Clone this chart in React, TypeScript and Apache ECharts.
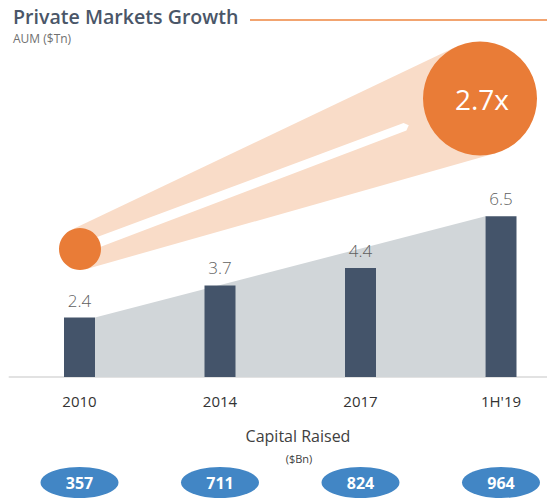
import React, { useEffect, useRef } from "react";
import * as echarts from "echarts";

const categories = ["2010", "2014", "2017", "1H'19"];
const aum = [2.4, 3.7, 4.4, 6.5];
const capitalRaised = [357, 711, 824, 964];
const titleText = "Private Markets Growth";
const subtitleText = "AUM ($Tn)";
const footerTitle = "Capital Raised";
const footerUnit = "($Bn)";

const FONT = "'Open Sans', 'Noto Sans', sans-serif";
const BAR_W = 31;

function beamGraphics() {
  const c1 = { x: 80, y: 249, r: 21 };
  const c2 = { x: 480, y: 98.5, r: 57 };
  const dx = c2.x - c1.x;
  const dy = c2.y - c1.y;
  const d = Math.sqrt(dx * dx + dy * dy);
  const th = Math.atan2(dy, dx);
  const al = Math.asin((c2.r - c1.r) / d);
  const pu = th - al;
  const pl = th + al;
  const nu = [Math.sin(pu), -Math.cos(pu)];
  const nl = [-Math.sin(pl), Math.cos(pl)];
  const hull = [
    [c1.x + c1.r * nu[0], c1.y + c1.r * nu[1]],
    [c2.x + c2.r * nu[0], c2.y + c2.r * nu[1]],
    [c2.x + c2.r * nl[0], c2.y + c2.r * nl[1]],
    [c1.x + c1.r * nl[0], c1.y + c1.r * nl[1]],
  ];
  const ux = Math.cos(th);
  const uy = Math.sin(th);
  const nx = -uy;
  const ny = ux;
  const sx = 95;
  const s0 = [sx, c1.y + (sx - c1.x) * Math.tan(th)];
  const ex = 405;
  const e0 = [ex, c1.y + (ex - c1.x) * Math.tan(th)];
  const w0 = 5.2;
  const w1 = 4;
  const streak = [
    [s0[0] + nx * w0, s0[1] + ny * w0],
    [e0[0] + nx * w1, e0[1] + ny * w1],
    [e0[0] + ux * 4, e0[1] + uy * 4],
    [e0[0] - nx * w1, e0[1] - ny * w1],
    [s0[0] - nx * w0, s0[1] - ny * w0],
  ];
  const ratio = (aum[aum.length - 1] / aum[0]).toFixed(1) + "x";
  return [
    { type: "polygon", z: 10, shape: { points: hull }, style: { fill: "#f9dcc8" } },
    { type: "polygon", z: 11, shape: { points: streak, smooth: 0 }, style: { fill: "#ffffff" } },
    { type: "circle", z: 12, shape: { cx: c1.x, cy: c1.y, r: c1.r }, style: { fill: "#e97c37" } },
    { type: "circle", z: 12, shape: { cx: c2.x, cy: c2.y, r: c2.r }, style: { fill: "#e97c37" } },
    {
      type: "text",
      z: 13,
      x: c2.x + 2,
      y: c2.y,
      style: {
        text: ratio,
        fill: "#ffffff",
        font: `400 28px ${FONT}`,
        align: "center",
        verticalAlign: "middle",
      },
    },
  ];
}

export default function App() {
  const ref = useRef<HTMLDivElement>(null);
  useEffect(() => {
    if (!ref.current) return;
    const chart = echarts.init(ref.current, null, { renderer: "svg" });
    const option: any = {
      animation: false,
      textStyle: { fontFamily: FONT },
      grid: [
        { left: 9.25, top: 129.5, width: 562, height: 247.5 },
        { left: 9.25, top: 467, width: 562, height: 31 },
      ],
      xAxis: [
        {
          type: "category",
          gridIndex: 0,
          data: categories,
          axisLine: { show: true, lineStyle: { color: "#d9d9d9", width: 1.5 } },
          axisTick: { show: false },
          axisLabel: { margin: 16, fontSize: 15, color: "#333333", fontFamily: FONT },
        },
        { type: "category", gridIndex: 1, data: categories, show: false },
      ],
      yAxis: [
        { type: "value", gridIndex: 0, min: 0, max: 10, show: false },
        { type: "value", gridIndex: 1, min: -1, max: 1, show: false },
      ],
      series: [
        {
          type: "custom",
          xAxisIndex: 0,
          yAxisIndex: 0,
          z: 1,
          data: [[0, aum[0]]],
          renderItem: (_p: any, api: any) => {
            const last = aum.length - 1;
            const a = api.coord([0, aum[0]]);
            const b = api.coord([last, aum[last]]);
            const base = api.coord([0, 0]);
            const h = BAR_W / 2;
            return {
              type: "polygon",
              shape: {
                points: [
                  [a[0] + h, a[1]],
                  [b[0] - h, b[1]],
                  [b[0] - h, base[1]],
                  [a[0] + h, base[1]],
                ],
              },
              style: { fill: "#d1d6d9" },
            };
          },
        },
        {
          type: "bar",
          xAxisIndex: 0,
          yAxisIndex: 0,
          z: 3,
          data: aum,
          barWidth: BAR_W,
          itemStyle: { color: "#44546a" },
          label: {
            show: true,
            position: "top",
            distance: 9,
            fontSize: 17,
            fontWeight: 300,
            color: "#5f5f5f",
            fontFamily: FONT,
          },
        },
        {
          type: "scatter",
          xAxisIndex: 1,
          yAxisIndex: 1,
          data: capitalRaised.map((v, i) => [i, 0, v]),
          symbol: "circle",
          symbolSize: [78, 31],
          itemStyle: { color: "#4286c5", opacity: 1 },
          label: {
            show: true,
            position: "inside",
            formatter: (p: any) => String(p.value[2]),
            color: "#ffffff",
            fontSize: 16,
            fontWeight: "bold",
            fontFamily: FONT,
          },
        },
      ],
      graphic: [
        {
          type: "text",
          x: 13,
          y: 16,
          style: {
            text: titleText,
            fill: "#4a5668",
            font: `600 19.6px ${FONT}`,
            verticalAlign: "middle",
          },
        },
        {
          type: "line",
          shape: { x1: 250, y1: 20, x2: 547, y2: 20 },
          style: { stroke: "#f2a470", lineWidth: 2 },
        },
        {
          type: "text",
          x: 13,
          y: 38,
          style: {
            text: subtitleText,
            fill: "#707070",
            font: `400 12px ${FONT}`,
            verticalAlign: "middle",
          },
        },
        ...beamGraphics(),
        {
          type: "text",
          x: 298,
          y: 436,
          style: {
            text: footerTitle,
            fill: "#404040",
            font: `400 16px ${FONT}`,
            align: "center",
            verticalAlign: "middle",
          },
        },
        {
          type: "text",
          x: 299,
          y: 458.5,
          style: {
            text: footerUnit,
            fill: "#404040",
            font: `400 11px ${FONT}`,
            align: "center",
            verticalAlign: "middle",
          },
        },
      ],
    };
    chart.setOption(option);
    return () => chart.dispose();
  }, []);
  return (
    <div style={{ position: "absolute", left: 0, top: 0, width: 547, height: 501, overflow: "hidden" }}>
      <div ref={ref} style={{ width: 580, height: 501 }} />
    </div>
  );
}
